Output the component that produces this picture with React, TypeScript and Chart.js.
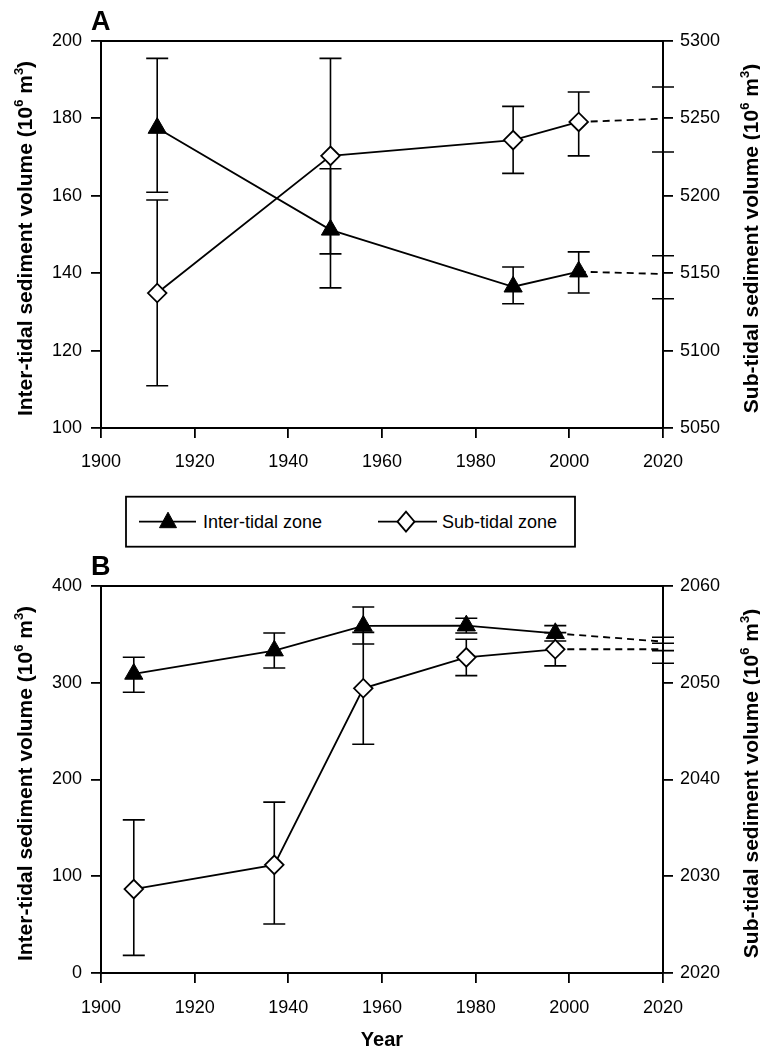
import React, { useEffect, useRef } from 'react';
import { Chart, registerables } from 'chart.js';

Chart.register(...registerables);

const FONT = '"Liberation Sans", Arial, Helvetica, sans-serif';

// ---------- Panel A data ----------
const yearsA = [1912, 1949, 1988, 2002];
const interA = [177.5, 151.2, 136.5, 140.4];
const interA_low = [160.9, 136.2, 132.1, 134.9];
const interA_high = [195.5, 167.0, 141.6, 145.5];
const subA = [5137.2, 5225.8, 5236.0, 5247.7];
const subA_low = [5077.3, 5162.5, 5214.5, 5225.8];
const subA_high = [5197.3, 5288.8, 5257.8, 5267.1];
const projYearsA = [2002, 2020];
const interA_proj = [140.4, 139.8];
const interA_proj_low = [null, 133.4];
const interA_proj_high = [null, 144.5];
const subA_proj = [5247.7, 5249.8];
const subA_proj_low = [null, 5228.3];
const subA_proj_high = [null, 5270.3];

// ---------- Panel B data ----------
const yearsB = [1907, 1937, 1956, 1978, 1997];
const interB = [309.1, 333.2, 358.7, 359.0, 351.1];
const interB_low = [290.2, 315.3, 340.0, 351.4, 343.2];
const interB_high = [326.3, 351.4, 378.3, 366.6, 359.0];
const subB = [2028.67, 2031.18, 2049.43, 2052.63, 2053.46];
const subB_low = [2021.82, 2025.06, 2043.65, 2050.74, 2051.74];
const subB_high = [2035.83, 2037.66, 2055.21, 2054.5, 2055.18];
const projYearsB = [1997, 2020];
const interB_proj = [351.1, 342.5];
const interB_proj_low = [null, 333.2];
const interB_proj_high = [null, 340.8];
const subB_proj = [2053.46, 2053.46];
const subB_proj_low = [null, 2052.01];
const subB_proj_high = [null, 2054.7];

// ---------- Ticks ----------
const xTicks = [1900, 1920, 1940, 1960, 1980, 2000, 2020];
const yLeftTicksA = [100, 120, 140, 160, 180, 200];
const yRightTicksA = [5050, 5100, 5150, 5200, 5250, 5300];
const yLeftTicksB = [0, 100, 200, 300, 400];
const yRightTicksB = [2020, 2030, 2040, 2050, 2060];

// ---------- Text ----------
const interLabel = 'Inter-tidal zone';
const subLabel = 'Sub-tidal zone';
const leftTitle = ['Inter-tidal sediment volume (10', '6', ' m', '3', ')'];
const rightTitle = ['Sub-tidal sediment volume (10', '6', ' m', '3', ')'];
const xTitle = 'Year';

const pts = (xs: number[], ys: (number | null)[]) => xs.map((x, i) => ({ x, y: ys[i] }));

const errorBarPlugin = {
  id: 'errorBars',
  beforeDatasetsDraw(chart: any) {
    const ctx = chart.ctx;
    const xs = chart.scales.x;
    chart.data.datasets.forEach((ds: any) => {
      if (!ds.errLow) return;
      const ys = chart.scales[ds.yAxisID];
      ctx.save();
      ctx.strokeStyle = '#000';
      ctx.lineWidth = 1.6;
      ds.data.forEach((p: any, i: number) => {
        const lo = ds.errLow[i];
        const hi = ds.errHigh[i];
        if (lo == null || hi == null) return;
        const px = xs.getPixelForValue(p.x);
        const yl = ys.getPixelForValue(lo);
        const yh = ys.getPixelForValue(hi);
        ctx.beginPath();
        ctx.moveTo(px, yl);
        ctx.lineTo(px, yh);
        ctx.moveTo(px - 11, yl);
        ctx.lineTo(px + 11, yl);
        ctx.moveTo(px - 11, yh);
        ctx.lineTo(px + 11, yh);
        ctx.stroke();
      });
      ctx.restore();
    });
  },
};

function drawRotated(ctx: CanvasRenderingContext2D, cx: number, cy: number, parts: string[], size: number) {
  const main = `bold ${size}px ${FONT}`;
  const sup = `bold ${Math.round(size * 0.62)}px ${FONT}`;
  ctx.save();
  ctx.translate(cx, cy);
  ctx.rotate(-Math.PI / 2);
  ctx.fillStyle = '#000';
  ctx.textBaseline = 'alphabetic';
  ctx.textAlign = 'left';
  let total = 0;
  parts.forEach((t, i) => {
    ctx.font = i % 2 === 1 ? sup : main;
    total += ctx.measureText(t).width;
  });
  let x = -total / 2;
  const base = size * 0.36;
  parts.forEach((t, i) => {
    const isSup = i % 2 === 1;
    ctx.font = isSup ? sup : main;
    ctx.fillText(t, x, isSup ? base - size * 0.42 : base);
    x += ctx.measureText(t).width;
  });
  ctx.restore();
}

const makeTextPlugin = (letter: string, showX: boolean) => ({
  id: 'texts',
  afterDraw(chart: any) {
    const ctx = chart.ctx;
    const a = chart.chartArea;
    ctx.save();
    ctx.strokeStyle = '#000';
    ctx.lineWidth = 2;
    ctx.beginPath();
    ctx.moveTo(a.left - 1, a.top);
    ctx.lineTo(a.right + 1, a.top);
    ctx.stroke();
    ctx.fillStyle = '#000';
    ctx.font = `bold 27px ${FONT}`;
    ctx.textBaseline = 'alphabetic';
    ctx.textAlign = 'left';
    ctx.fillText(letter, 91, a.top - 11);
    ctx.restore();
    const cy = (a.top + a.bottom) / 2 + 4;
    drawRotated(ctx, 24, cy, leftTitle, 21);
    drawRotated(ctx, 750, cy, rightTitle, 21);
    if (showX) {
      ctx.save();
      ctx.fillStyle = '#000';
      ctx.font = `bold 20px ${FONT}`;
      ctx.textAlign = 'center';
      ctx.textBaseline = 'alphabetic';
      ctx.fillText(xTitle, (a.left + a.right) / 2, a.bottom + 73);
      ctx.restore();
    }
  },
});

const tickFont = { size: 18, family: FONT };

function axis(min: number, max: number, ticks: number[], pad: number, extra: any) {
  return {
    type: 'linear',
    min,
    max,
    afterBuildTicks: (s: any) => {
      s.ticks = ticks.map((v) => ({ value: v }));
    },
    ticks: {
      callback: (v: any) => String(v),
      font: tickFont,
      color: '#000',
      autoSkip: false,
      maxRotation: 0,
      padding: pad,
    },
    grid: { drawOnChartArea: false, drawTicks: true, tickLength: 10, color: '#000', lineWidth: 1.8 },
    border: { display: true, color: '#000', width: 2 },
    ...extra,
  };
}

function lineDs(label: string, data: any[], yAxisID: string, style: 'tri' | 'dia', lo: any, hi: any) {
  return {
    label,
    data,
    yAxisID,
    errLow: lo,
    errHigh: hi,
    borderColor: '#000',
    borderWidth: 1.8,
    tension: 0,
    pointStyle: style === 'tri' ? 'triangle' : 'rectRot',
    pointRadius: style === 'tri' ? 10.5 : 9.3,
    pointBackgroundColor: style === 'tri' ? '#000' : '#fff',
    pointBorderColor: '#000',
    pointBorderWidth: style === 'tri' ? 1 : 1.8,
    clip: false,
  };
}

function projDs(label: string, data: any[], yAxisID: string, lo: any, hi: any) {
  return {
    label,
    data,
    yAxisID,
    errLow: lo,
    errHigh: hi,
    borderColor: '#000',
    borderWidth: 1.8,
    borderDash: [7, 5],
    pointRadius: 0,
    tension: 0,
    clip: false,
  };
}

function configA(): any {
  return {
    type: 'line',
    data: {
      datasets: [
        lineDs(interLabel, pts(yearsA, interA), 'y', 'tri', interA_low, interA_high),
        lineDs(subLabel, pts(yearsA, subA), 'y1', 'dia', subA_low, subA_high),
        projDs(interLabel + ' (projection)', pts(projYearsA, interA_proj), 'y', interA_proj_low, interA_proj_high),
        projDs(subLabel + ' (projection)', pts(projYearsA, subA_proj), 'y1', subA_proj_low, subA_proj_high),
      ],
    },
    options: {
      responsive: false,
      animation: false,
      devicePixelRatio: 1,
      layout: { padding: { top: 41, left: 0, right: 0, bottom: 0 } },
      plugins: { legend: { display: false }, tooltip: { enabled: false } },
      scales: {
        x: axis(1900, 2020, xTicks, 13, { position: 'bottom', afterFit: (s: any) => { s.height = 52; } }),
        y: axis(100, 200, yLeftTicksA, 9, { position: 'left', afterFit: (s: any) => { s.width = 101; } }),
        y1: axis(5050, 5300, yRightTicksA, 7, { position: 'right', afterFit: (s: any) => { s.width = 97; } }),
      },
    },
    plugins: [errorBarPlugin, makeTextPlugin('A', false)],
  };
}

function configB(): any {
  return {
    type: 'line',
    data: {
      datasets: [
        lineDs(interLabel, pts(yearsB, interB), 'y', 'tri', interB_low, interB_high),
        lineDs(subLabel, pts(yearsB, subB), 'y1', 'dia', subB_low, subB_high),
        projDs(interLabel + ' (projection)', pts(projYearsB, interB_proj), 'y', interB_proj_low, interB_proj_high),
        projDs(subLabel + ' (projection)', pts(projYearsB, subB_proj), 'y1', subB_proj_low, subB_proj_high),
      ],
    },
    options: {
      responsive: false,
      animation: false,
      devicePixelRatio: 1,
      layout: { padding: { top: 36, left: 0, right: 0, bottom: 0 } },
      plugins: { legend: { display: false }, tooltip: { enabled: false } },
      scales: {
        x: axis(1900, 2020, xTicks, 14, { position: 'bottom', afterFit: (s: any) => { s.height = 78; } }),
        y: axis(0, 400, yLeftTicksB, 9, { position: 'left', afterFit: (s: any) => { s.width = 101; } }),
        y1: axis(2020, 2060, yRightTicksB, 7, { position: 'right', afterFit: (s: any) => { s.width = 97; } }),
      },
    },
    plugins: [errorBarPlugin, makeTextPlugin('B', true)],
  };
}

function Panel({ make, top, height }: { make: () => any; top: number; height: number }) {
  const ref = useRef<HTMLCanvasElement>(null);
  useEffect(() => {
    const chart = new Chart(ref.current as HTMLCanvasElement, make());
    return () => chart.destroy();
  }, []);
  return (
    <canvas
      ref={ref}
      width={760}
      height={height}
      style={{ position: 'absolute', left: 0, top, width: 760, height, display: 'block' }}
    />
  );
}

function Legend() {
  const cy = 31.7;
  const tri = (cx: number) => `${cx},${cy - 9.5} ${cx + 8.5},${cy + 6} ${cx - 8.5},${cy + 6}`;
  const dia = (cx: number) => `${cx - 8.5},${cy} ${cx},${cy - 10} ${cx + 8.5},${cy} ${cx},${cy + 10}`;
  return (
    <svg style={{ position: 'absolute', left: 0, top: 490 }} width={760} height={60}>
      <rect x={126} y={6.7} width={449} height={50} fill="#fff" stroke="#000" strokeWidth={1.8} />
      <line x1={139} y1={cy} x2={196} y2={cy} stroke="#000" strokeWidth={1.8} />
      <polygon points={tri(168)} fill="#000" stroke="#000" strokeWidth={1} />
      <text x={203} y={cy + 6.5} fontFamily={FONT} fontSize={18} fill="#000">{interLabel}</text>
      <line x1={378} y1={cy} x2={437} y2={cy} stroke="#000" strokeWidth={1.8} />
      <polygon points={dia(406)} fill="#fff" stroke="#000" strokeWidth={1.8} />
      <text x={442} y={cy + 6.5} fontFamily={FONT} fontSize={18} fill="#000">{subLabel}</text>
    </svg>
  );
}

export default function App() {
  return (
    <div style={{ position: 'absolute', left: 0, top: 0, width: 760, height: 1051, background: '#fff' }}>
      <Panel make={configA} top={0} height={480} />
      <Legend />
      <Panel make={configB} top={550} height={501} />
    </div>
  );
}
